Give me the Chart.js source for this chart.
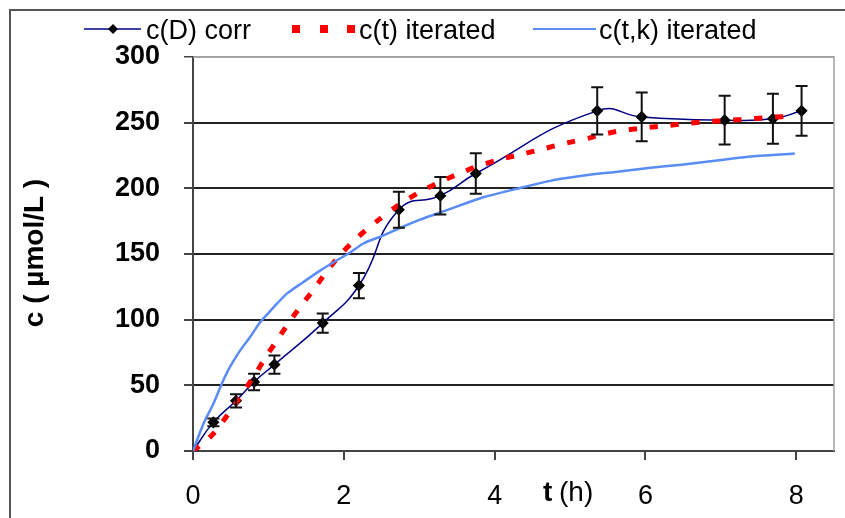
<!DOCTYPE html>
<html>
<head>
<meta charset="utf-8">
<script src="https://cdn.jsdelivr.net/npm/chart.js@4"></script>
<style>
  body { margin: 0; background: #fff; }
</style>
</head>
<body>
<canvas id="myChart" width="845" height="518"></canvas>
<script>
// c(D) corr : measured points with error bars
var corrT   = [0, 0.27, 0.57, 0.81, 1.08, 1.72, 2.20, 2.73, 3.28, 3.75, 5.36, 5.95, 7.05, 7.69, 8.07];
var corrC   = [0, 21.8, 38.2, 52.6, 65.8, 97.4, 126, 183.7, 194.4, 211.3, 259, 254.4, 251.9, 253, 259];
var corrErr = [0, 3, 5, 6.3, 7, 7.3, 9.6, 13.7, 14.3, 15.4, 18, 18.5, 18.6, 19, 19];

// c(t) iterated
var iterT = [0, 0.25, 0.49, 0.83, 0.98, 1.10, 1.25, 1.40, 1.60, 1.74, 1.93, 2.17, 2.44, 2.72, 3.00, 3.28, 3.52,
             3.76, 4.07, 4.36, 4.64, 4.95, 5.23, 5.39, 5.64, 5.95, 6.23, 6.54, 6.83, 7.10, 7.36, 7.65, 7.97];
var iterC = [0, 12, 30, 59, 73, 83, 96, 108, 123, 134, 148, 162, 175, 187, 197, 205, 211,
             216.5, 222, 226, 230, 234.5, 238, 240.5, 243.5, 245.8, 247.5, 249.3, 250.8, 251.8, 252.8, 254, 255];

// c(t,k) iterated
var iterKT = [0, 0.14, 0.27, 0.38, 0.49, 0.63, 0.76, 0.89, 1.0, 1.11, 1.25, 1.46, 1.69, 1.93, 2.08, 2.26, 2.52,
              2.75, 3.0, 3.25, 3.54, 3.84, 4.28, 4.72, 5.16, 5.6, 6.04, 6.48, 6.92, 7.36, 7.98];
var iterKC = [0, 21, 36, 51, 64, 77, 87, 98, 105, 112, 120, 128.5, 137.5, 146, 151, 158, 164,
              170, 176, 181, 187, 193, 199.5, 205.5, 209.5, 212.5, 215.5, 218, 221, 224, 226.5];

var xTicks = [0, 2, 4, 6, 8];
var yTicks = [0, 50, 100, 150, 200, 250, 300];

var FONT = "'Liberation Sans', Arial, sans-serif";
Chart.defaults.font.family = FONT;

function toPoints(xs, ys) {
  return xs.map(function (x, i) { return { x: x, y: ys[i] }; });
}

var frame = {
  id: 'frame',
  beforeDraw: function (chart) {
    var ctx = chart.ctx;
    ctx.save();
    ctx.fillStyle = '#fff';
    ctx.fillRect(0, 0, chart.width, chart.height);
    ctx.strokeStyle = '#555';
    ctx.lineWidth = 2;
    ctx.beginPath();
    ctx.moveTo(10, chart.height);
    ctx.lineTo(10, 10);
    ctx.lineTo(chart.width, 10);
    ctx.stroke();
    ctx.restore();
  },
  beforeDatasetsDraw: function (chart) {
    var ctx = chart.ctx, a = chart.chartArea;
    ctx.save();
    ctx.strokeStyle = '#a0a0a0';
    ctx.lineWidth = 1.5;
    ctx.beginPath();
    ctx.moveTo(a.left, a.top);
    ctx.lineTo(a.right, a.top);
    ctx.lineTo(a.right, a.bottom);
    ctx.stroke();
    ctx.restore();
  }
};

var errorBars = {
  id: 'errorBars',
  afterDatasetsDraw: function (chart) {
    var ctx = chart.ctx, xs = chart.scales.x, ys = chart.scales.y;
    ctx.save();
    ctx.strokeStyle = '#111';
    ctx.lineWidth = 2;
    corrT.forEach(function (t, i) {
      if (!corrErr[i]) return;
      var px = xs.getPixelForValue(t);
      var top = ys.getPixelForValue(corrC[i] + corrErr[i]);
      var bot = ys.getPixelForValue(corrC[i] - corrErr[i]);
      ctx.beginPath();
      ctx.moveTo(px, top); ctx.lineTo(px, bot);
      ctx.moveTo(px - 6, top); ctx.lineTo(px + 6, top);
      ctx.moveTo(px - 6, bot); ctx.lineTo(px + 6, bot);
      ctx.stroke();
    });
    ctx.restore();
  }
};

var titlesAndLegend = {
  id: 'titlesAndLegend',
  afterDraw: function (chart) {
    var ctx = chart.ctx;
    ctx.save();
    ctx.fillStyle = '#000';
    ctx.textBaseline = 'middle';

    // y title
    ctx.save();
    ctx.translate(35, 253);
    ctx.rotate(-Math.PI / 2);
    ctx.textAlign = 'center';
    ctx.font = 'bold 28px ' + FONT;
    ctx.fillText('c ( \u00b5mol/L )', 0, 0);
    ctx.restore();

    // x title, on the tick label line
    ctx.textAlign = 'left';
    ctx.font = 'bold 28px ' + FONT;
    ctx.fillText('t', 543, 493);
    ctx.font = '28px ' + FONT;
    ctx.fillText('(h)', 559, 493);

    // legend
    var ly = 29, ty = 32;
    ctx.strokeStyle = '#000080';
    ctx.lineWidth = 1.5;
    ctx.beginPath(); ctx.moveTo(84, ly); ctx.lineTo(141, ly); ctx.stroke();
    ctx.fillStyle = '#000';
    ctx.beginPath();
    ctx.moveTo(113, ly - 5); ctx.lineTo(118, ly); ctx.lineTo(113, ly + 5); ctx.lineTo(108, ly);
    ctx.closePath(); ctx.fill();
    ctx.font = '27px ' + FONT;
    ctx.fillText('c(D) corr', 146, ty);

    ctx.fillStyle = '#ff0000';
    [292, 320, 347].forEach(function (x) { ctx.fillRect(x, ly - 4, 8, 8); });
    ctx.fillStyle = '#000';
    ctx.fillText('c(t) iterated', 359, ty);

    ctx.strokeStyle = '#5a8cf6';
    ctx.lineWidth = 2;
    ctx.beginPath(); ctx.moveTo(533, ly); ctx.lineTo(596, ly); ctx.stroke();
    ctx.fillText('c(t,k) iterated', 599, ty);
    ctx.restore();
  }
};

var data = {
  datasets: [{
    label: 'c(D) corr',
    data: toPoints(corrT, corrC),
    borderColor: '#000080',
    borderWidth: 1.5,
    backgroundColor: '#000',
    pointStyle: 'rectRot',
    pointRadius: 5,
    pointBorderColor: '#000',
    pointBackgroundColor: '#000',
    tension: 0.5,
    order: 3
  }, {
    label: 'c(t) iterated',
    data: toPoints(iterT, iterC),
    borderColor: '#ff0000',
    borderWidth: 5,
    borderDash: [8, 13],
    pointRadius: 0,
    tension: 0.3,
    order: 2
  }, {
    label: 'c(t,k) iterated',
    data: toPoints(iterKT, iterKC),
    borderColor: '#5a8cf6',
    borderWidth: 2.5,
    pointRadius: 0,
    tension: 0.3,
    order: 1
  }]
};

var config = {
  type: 'line',
  data: data,
  options: {
    responsive: false,
    animation: false,
    devicePixelRatio: 1,
    layout: { padding: { top: 57, right: 11, left: 0, bottom: 0 } },
    plugins: { legend: { display: false }, tooltip: { enabled: false } },
    scales: {
      x: {
        type: 'linear',
        min: 0,
        max: 8.5,
        afterFit: function (s) { s.height = 67; },
        afterBuildTicks: function (s) { s.ticks = xTicks.map(function (v) { return { value: v }; }); },
        ticks: { color: '#000', font: { size: 27 }, padding: 20, maxRotation: 0 },
        grid: { drawOnChartArea: false, tickLength: 9, color: '#444', lineWidth: 2 },
        border: { color: '#444', width: 2 }
      },
      y: {
        type: 'linear',
        min: 0,
        max: 300,
        afterFit: function (s) { s.width = 193; },
        afterBuildTicks: function (s) { s.ticks = yTicks.map(function (v) { return { value: v }; }); },
        ticks: { color: '#000', font: { size: 27, weight: 'bold' }, padding: 24 },
        grid: {
          color: function (c) { return c.tick && c.tick.value === 300 ? '#a0a0a0' : '#222'; },
          lineWidth: function (c) { return c.tick && c.tick.value === 300 ? 1.5 : 2; },
          tickColor: '#444',
          tickLength: 9
        },
        border: { color: '#444', width: 2 }
      }
    }
  },
  plugins: [frame, errorBars, titlesAndLegend]
};

var myChart = new Chart(document.getElementById('myChart'), config);
</script>
</body>
</html>
